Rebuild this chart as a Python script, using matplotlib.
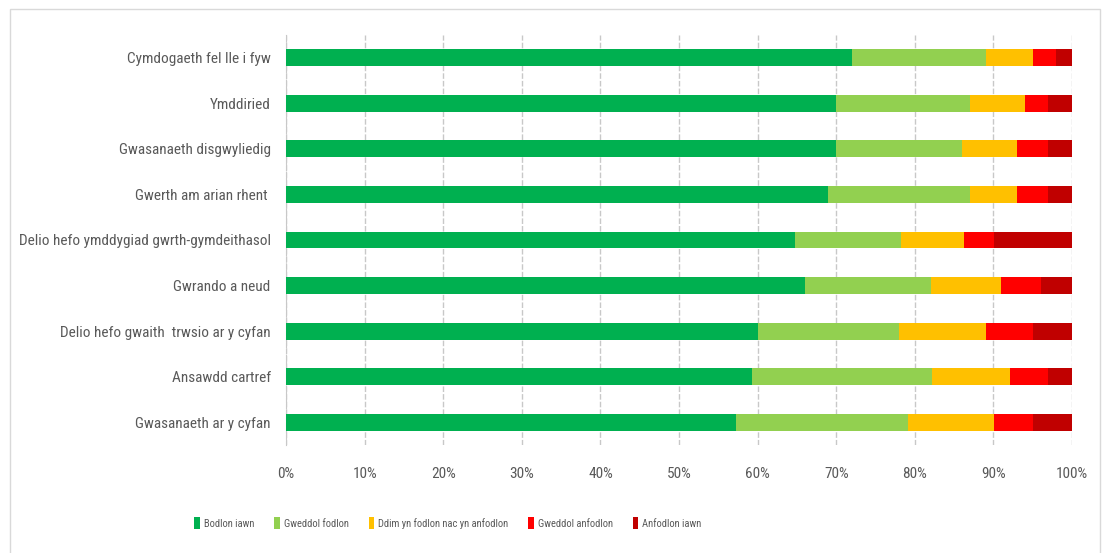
import matplotlib
matplotlib.use("Agg")
import matplotlib.pyplot as plt
from matplotlib.patches import Rectangle
import numpy as np

categories = [
    "Cymdogaeth fel lle i fyw",
    "Ymddiried",
    "Gwasanaeth disgwyliedig",
    "Gwerth am arian rhent ",
    "Delio hefo ymddygiad gwrth-gymdeithasol",
    "Gwrando a neud",
    "Delio hefo gwaith  trwsio ar y cyfan",
    "Ansawdd cartref",
    "Gwasanaeth ar y cyfan",
]
series_names = ["Bodlon iawn", "Gweddol fodlon", "Ddim yn fodlon nac yn anfodlon",
                "Gweddol anfodlon", "Anfodlon iawn"]
bodlon_iawn = [72, 70, 70, 69, 64.8, 66, 60, 59.3, 57.3]
gweddol_fodlon = [17, 17, 16, 18, 13.5, 16, 18, 22.9, 21.8]
ddim = [6, 7, 7, 6, 7.9, 9, 11, 9.9, 11]
gweddol_anfodlon = [3, 3, 4, 4, 3.9, 5, 6, 4.9, 4.9]
anfodlon_iawn = [2, 3, 3, 3, 9.9, 4, 5, 3, 5]
colors = ["#00B050", "#92D050", "#FFC000", "#FF0000", "#C00000"]
xticks = [0, 10, 20, 30, 40, 50, 60, 70, 80, 90, 100]

font = ['Roboto Condensed', 'DejaVu Sans']
txtcol = "#595959"
fs = 11

fig = plt.figure(figsize=(11.05, 5.53), dpi=100)
fig.patches.append(Rectangle((10/1105, -0.01), 1090/1105, 1 - 9/553 + 0.01,
                             transform=fig.transFigure, fill=False,
                             edgecolor="#D9D9D9", linewidth=1))
ax = fig.add_axes([286/1105, 1 - 445/553, (1072-286)/1105, 410/553])

y = np.arange(len(categories))
left = np.zeros(len(categories))
for name, vals, c in zip(series_names,
                         [bodlon_iawn, gweddol_fodlon, ddim, gweddol_anfodlon, anfodlon_iawn],
                         colors):
    vals = np.array(vals, dtype=float)
    ax.barh(y, vals, left=left, height=0.37, color=c, label=name, zorder=3)
    left += vals

ax.set_ylim(len(categories) - 0.5, -0.5)
ax.set_xlim(0, 100)
ax.set_xticks(xticks)
ax.set_xticklabels([f"{t}%" for t in xticks], family=font, fontsize=fs, color=txtcol)
ax.set_yticks(y)
ax.set_yticklabels(categories, family=font, fontsize=fs, color=txtcol)
ax.tick_params(axis='both', length=0)
ax.tick_params(axis='x', pad=16)
ax.tick_params(axis='y', pad=11)
ax.grid(axis='x', color="#C8C8C8", linewidth=1, linestyle=(0, (4, 1.5)), zorder=0)
for s in ["top", "right", "bottom"]:
    ax.spines[s].set_visible(False)
ax.spines["left"].set_color("#C8C8C8")
ax.spines["left"].set_linestyle((0, (4, 1.5)))

leg = fig.legend(loc="center", bbox_to_anchor=(448/1105, 1 - 523/553), ncol=5,
                 frameon=False, handlelength=0.5, handleheight=1.3, handletextpad=0.4,
                 columnspacing=1.9, prop={'family': font, 'size': 7.6})
for t in leg.get_texts():
    t.set_color(txtcol)

fig.savefig("out.png", dpi=100)
